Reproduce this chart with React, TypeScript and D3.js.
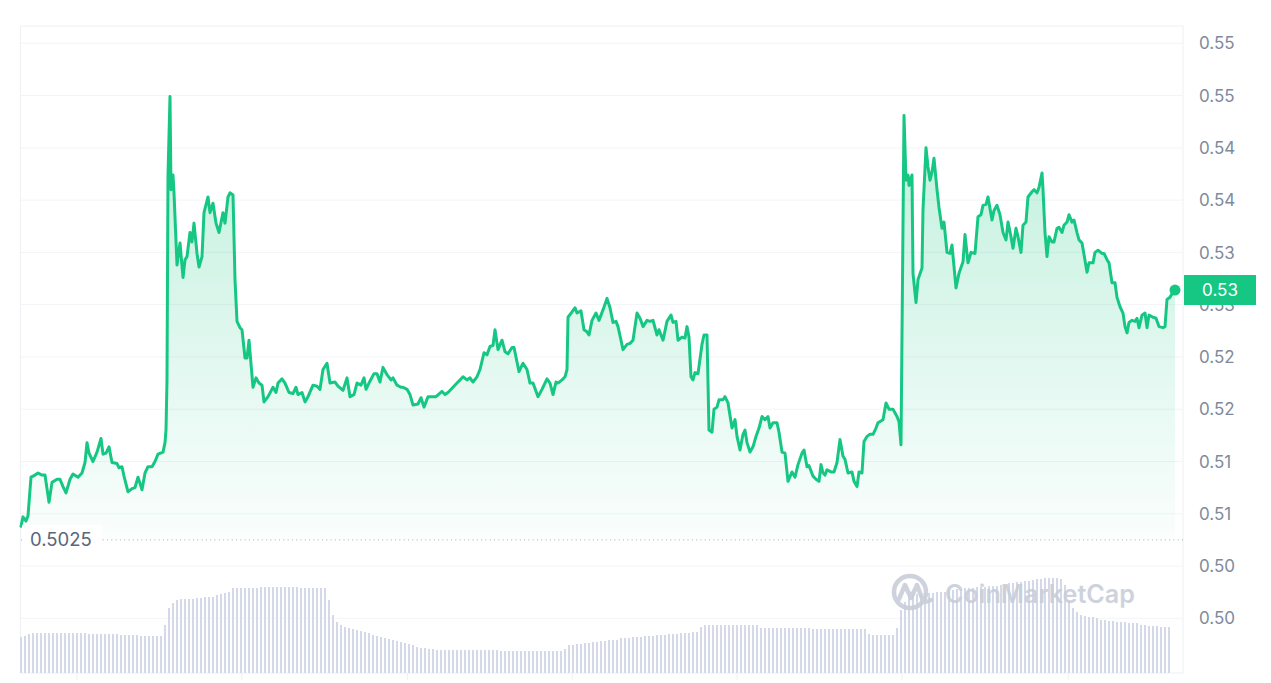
import React from 'react';
import * as d3 from 'd3';

// [minutes since start, price]
const priceSeries: [number, number][] = [
  [0,0.5038],[2.5,0.5047],[6.25,0.5043],[8.75,0.5048],[12.5,0.5085],[17.5,0.5087],[21.25,0.5089],[26.25,0.5087],[30,0.5087],[35,0.5061],
  [38.75,0.5080],[45,0.5083],[48.75,0.5083],[52.5,0.5076],[56.25,0.5070],[61.25,0.5083],[65,0.5088],[71.25,0.5085],[76.25,0.5089],[80,0.5099],
  [82.5,0.5118],[85,0.5108],[90,0.5100],[95,0.5109],[100,0.5122],[102.5,0.5107],[106.25,0.5108],[110,0.5114],[113.75,0.5099],[120,0.5098],
  [122.5,0.5094],[126.25,0.5095],[128.75,0.5086],[133.75,0.5071],[138.75,0.5074],[142.5,0.5075],[146.25,0.5085],[151.25,0.5073],[155,0.5089],[158.75,0.5095],
  [163.75,0.5095],[167.5,0.5100],[171.25,0.5107],[177.5,0.5109],[180,0.5118],[181.25,0.5130],[182.5,0.5178],[183.75,0.5374],[186.25,0.5449],[187.5,0.5360],
  [190,0.5374],[191.25,0.5357],[195,0.5288],[198.75,0.5309],[202.5,0.5276],[205,0.5293],[207.5,0.5296],[211.25,0.5319],[213.75,0.5310],[216.25,0.5328],
  [220,0.5299],[222.5,0.5286],[226.25,0.5296],[228.75,0.5338],[233.75,0.5353],[236.25,0.5338],[240,0.5347],[243.75,0.5328],[247.5,0.5319],[252.5,0.5338],
  [255,0.5328],[258.75,0.5353],[261.25,0.5357],[265,0.5355],[267.5,0.5274],[270,0.5234],[273.75,0.5228],[276.25,0.5226],[280,0.5199],[282.5,0.5199],
  [285,0.5216],[290,0.5171],[293.75,0.5180],[297.5,0.5175],[301.25,0.5173],[303.75,0.5157],[308.75,0.5162],[315,0.5171],[318.75,0.5166],[321.25,0.5175],
  [326.25,0.5179],[330,0.5175],[335,0.5166],[340,0.5165],[343.75,0.5171],[346.25,0.5164],[351.25,0.5166],[355,0.5157],[358.75,0.5162],[365,0.5173],
  [370,0.5172],[373.75,0.5169],[377.5,0.5188],[382.5,0.5194],[386.25,0.5175],[392.5,0.5176],[396.25,0.5172],[402.5,0.5168],[407.5,0.5180],[411.25,0.5162],
  [416.25,0.5164],[420,0.5175],[425,0.5173],[428.75,0.5180],[431.25,0.5169],[435,0.5175],[441.25,0.5184],[445,0.5184],[448.75,0.5176],[452.5,0.5190],
  [457.5,0.5183],[462.5,0.5178],[465,0.5180],[470,0.5173],[475,0.5171],[477.5,0.5171],[482.5,0.5169],[486.25,0.5164],[490,0.5154],[496.25,0.5155],
  [500,0.5161],[503.75,0.5152],[508.75,0.5162],[513.75,0.5162],[518.75,0.5162],[526.25,0.5167],[530,0.5164],[533.75,0.5166],[540,0.5171],[545,0.5175],
  [548.75,0.5178],[552.5,0.5181],[557.5,0.5178],[561.25,0.5180],[565,0.5176],[570,0.5181],[573.75,0.5188],[578.75,0.5204],[582.5,0.5202],[586.25,0.5210],
  [590,0.5211],[592.5,0.5226],[596.25,0.5207],[601.25,0.5216],[605,0.5205],[608.75,0.5203],[613.75,0.5209],[616.25,0.5209],[622.5,0.5186],[627.5,0.5194],
  [632.5,0.5188],[636.25,0.5175],[640,0.5175],[646.25,0.5162],[651.25,0.5169],[657.5,0.5179],[661.25,0.5175],[665,0.5164],[668.75,0.5176],[671.25,0.5175],
  [676.25,0.5178],[680,0.5181],[682.5,0.5188],[683.75,0.5238],[688.75,0.5243],[692.5,0.5247],[695,0.5242],[700,0.5244],[703.75,0.5226],[707.5,0.5224],
  [710,0.5221],[713.75,0.5235],[718.75,0.5242],[722.5,0.5235],[727.5,0.5245],[732.5,0.5256],[736.25,0.5247],[740,0.5233],[743.75,0.5234],[746.25,0.5229],
  [750,0.5216],[752.5,0.5207],[757.5,0.5212],[761.25,0.5213],[765,0.5216],[770,0.5242],[773.75,0.5237],[777.5,0.5229],[782.5,0.5235],[786.25,0.5234],
  [790,0.5235],[795,0.5221],[797.5,0.5226],[802.5,0.5216],[807.5,0.5234],[812.5,0.5240],[815,0.5233],[818.75,0.5234],[821.25,0.5216],[826.25,0.5219],
  [830,0.5218],[832.5,0.5229],[835,0.5219],[837.5,0.5181],[840,0.5178],[842.5,0.5185],[846.25,0.5184],[851.25,0.5212],[853.75,0.5221],[857.5,0.5221],
  [860,0.5130],[863.75,0.5128],[866.25,0.5150],[870,0.5152],[872.5,0.5159],[877.5,0.5159],[880,0.5162],[883.75,0.5156],[888.75,0.5132],[892.5,0.5140],
  [895,0.5124],[898.75,0.5111],[902.5,0.5126],[905,0.5130],[907.5,0.5118],[911.25,0.5109],[915,0.5114],[918.75,0.5124],[922.5,0.5132],[926.25,0.5143],
  [930,0.5140],[933.75,0.5143],[936.25,0.5132],[940,0.5137],[945,0.5137],[947.5,0.5128],[951.25,0.5109],[955,0.5108],[958.75,0.5081],[963.75,0.5090],
  [967.5,0.5085],[971.25,0.5097],[976.25,0.5108],[978.75,0.5111],[982.5,0.5095],[985,0.5096],[990,0.5086],[993.75,0.5083],[997.5,0.5081],[1000,0.5097],
  [1002.5,0.5089],[1005,0.5087],[1007.5,0.5092],[1012.5,0.5090],[1016.25,0.5090],[1020,0.5099],[1023.75,0.5121],[1027.5,0.5105],[1030,0.5102],[1033.75,0.5089],
  [1038.75,0.5090],[1041.25,0.5081],[1045,0.5076],[1047.5,0.5090],[1051.25,0.5089],[1053.75,0.5119],[1057.5,0.5124],[1061.25,0.5126],[1065,0.5126],[1068.75,0.5132],
  [1071.25,0.5137],[1077.5,0.5140],[1081.25,0.5156],[1085,0.5150],[1090,0.5150],[1095,0.5143],[1097.5,0.5138],[1100,0.5116],[1103.75,0.5431],[1106.25,0.5369],
  [1108.75,0.5374],[1110,0.5364],[1113.75,0.5374],[1115,0.5280],[1118.75,0.5252],[1121.25,0.5274],[1126.25,0.5285],[1127.5,0.5341],[1131.25,0.5400],[1133.75,0.5382],
  [1136.25,0.5369],[1138.75,0.5377],[1141.25,0.5390],[1145,0.5360],[1147.5,0.5343],[1151.25,0.5323],[1153.75,0.5329],[1157.5,0.5300],[1161.25,0.5299],[1163.75,0.5307],
  [1168.75,0.5266],[1172.5,0.5280],[1177.5,0.5291],[1180,0.5317],[1183.75,0.5290],[1187.5,0.5300],[1192.5,0.5299],[1196.25,0.5334],[1200,0.5336],[1202.5,0.5345],
  [1206.25,0.5346],[1208.75,0.5353],[1213.75,0.5331],[1216.25,0.5340],[1220,0.5345],[1223.75,0.5336],[1227.5,0.5319],[1231.25,0.5312],[1233.75,0.5329],[1237.5,0.5315],
  [1240,0.5304],[1243.75,0.5323],[1246.25,0.5315],[1250,0.5300],[1252.5,0.5326],[1256.25,0.5329],[1258.75,0.5353],[1263.75,0.5358],[1266.25,0.5360],[1270,0.5357],
  [1272.5,0.5362],[1276.25,0.5376],[1277.5,0.5360],[1280,0.5319],[1282.5,0.5296],[1285,0.5315],[1288.75,0.5310],[1291.25,0.5310],[1295,0.5323],[1297.5,0.5324],
  [1301.25,0.5319],[1303.75,0.5326],[1307.5,0.5329],[1310,0.5336],[1313.75,0.5329],[1316.25,0.5331],[1320,0.5319],[1322.5,0.5312],[1326.25,0.5309],[1328.75,0.5298],
  [1332.5,0.5281],[1335,0.5290],[1340,0.5290],[1342.5,0.5300],[1346.25,0.5302],[1351.25,0.5299],[1353.75,0.5299],[1357.5,0.5293],[1360,0.5290],[1363.75,0.5271],
  [1367.5,0.5271],[1370,0.5257],[1373.75,0.5248],[1377.5,0.5242],[1380,0.5229],[1382.5,0.5223],[1385,0.5233],[1388.75,0.5235],[1392.5,0.5234],[1395,0.5237],
  [1397.5,0.5228],[1401.25,0.5240],[1405,0.5242],[1407.5,0.5228],[1410,0.5240],[1415,0.5238],[1418.75,0.5237],[1422.5,0.5229],[1427.5,0.5228],[1430,0.5229],
  [1432.5,0.5255],[1436.25,0.5257],[1440,0.5262],[1442.5,0.5264]
];

// volume per 5-minute bar (relative units)
const volumes: number[] = [
  36,37,39,40,40,40,40,40,40,40,40,40,40,40,40,40,40,39,39,39,39,39,39,39,39,38,
  38,38,38,38,37,37,37,37,37,37,48,65,70,73,74,74,74,74,75,75,76,76,76,78,79,80,81,
  85,85,85,85,85,85,85,86,86,86,86,86,86,86,86,86,86,85,85,85,85,85,85,85,73,58,51,
  48,46,45,44,43,42,41,40,38,37,36,35,34,33,32,31,30,29,28,26,25,25,24,24,
  23,23,23,23,23,23,23,23,23,23,23,23,23,23,23,23,22,22,22,22,22,22,22,22,22,22,22,22,22,22,22,22,
  24,28,28,29,29,30,30,31,31,32,32,33,33,33,35,35,35,36,36,36,37,37,37,38,38,38,39,39,39,40,40,40,41,41,
  46,48,48,48,48,48,48,48,48,48,48,48,48,48,48,
  45,45,45,45,45,45,45,45,45,45,45,45,45,44,44,44,44,44,44,44,44,44,44,44,44,44,44,
  39,38,38,38,38,38,38,45,63,71,78,78,79,79,80,80,80,81,81,81,
  83,83,84,84,85,85,85,86,86,86,87,87,87,88,88,90,90,91,91,92,92,93,94,94,95,95,95,95,94,
  88,73,65,61,58,57,56,56,55,53,53,52,52,51,51,51,50,50,50,48,48,47,47,47,46,46,46
];
const barMinutes = 5;

const yTicks = [0.495, 0.5, 0.505, 0.51, 0.515, 0.52, 0.525, 0.53, 0.535, 0.54, 0.545, 0.55];
const yTickLabels = ['0.50', '0.50', '0.51', '0.51', '0.52', '0.52', '0.53', '0.53', '0.54', '0.54', '0.55', '0.55'];
const xTickMinutes = [70, 276, 483, 689, 895, 1101, 1309];
const openPrice = 0.5025;
const openLabel = '0.5025';
const lastLabel = '0.53';

const GREEN = '#16c784';

export default function App() {
  const W = 1271, H = 683;
  const plotLeft = 21, dataRight = 1175, frameRight = 1183, frameTop = 26, frameBottom = 673;
  const maxT = d3.max(priceSeries, d => d[0]) as number;
  const x = d3.scaleLinear().domain([0, maxT]).range([plotLeft, dataRight]);
  const y = d3.scaleLinear().domain([0.495, 0.55]).range([618.3, 43.3]);
  const vy = d3.scaleLinear().domain([0, 100]).range([frameBottom, frameBottom - 100]);

  const line = d3.line<[number, number]>().x(d => x(d[0])).y(d => y(d[1]));
  const area = d3.area<[number, number]>().x(d => x(d[0])).y0(y(openPrice)).y1(d => y(d[1]));
  const last = priceSeries[priceSeries.length - 1];
  const maxP = d3.max(priceSeries, d => d[1]) as number;
  const yOpen = y(openPrice);
  const font = 'Inter, "Noto Sans", sans-serif';

  return (
    <svg width={W} height={H} style={{ position: 'absolute', left: 0, top: 0, background: '#fff' }}>
      <defs>
        <linearGradient id="pf" gradientUnits="userSpaceOnUse" x1="0" x2="0" y1={y(maxP)} y2={yOpen}>
          <stop offset="0" stopColor={GREEN} stopOpacity={0.28} />
          <stop offset="1" stopColor={GREEN} stopOpacity={0.02} />
        </linearGradient>
      </defs>
      {/* frame */}
      <line x1={plotLeft - 0.5} x2={frameRight} y1={frameTop} y2={frameTop} stroke="#eef0f4" />
      <line x1={plotLeft - 0.5} x2={plotLeft - 0.5} y1={frameTop} y2={frameBottom} stroke="#eef0f4" />
      <line x1={frameRight} x2={frameRight} y1={frameTop} y2={frameBottom} stroke="#eef0f4" />
      <line x1={plotLeft - 0.5} x2={frameRight} y1={frameBottom} y2={frameBottom} stroke="#eef0f4" />
      {xTickMinutes.map((m, i) => (
        <line key={'xt' + i} x1={x(m)} x2={x(m)} y1={frameBottom} y2={frameBottom + 7} stroke="#eef0f4" />
      ))}
      {/* grid */}
      {yTicks.map((t, i) => (
        <line key={'g' + i} x1={plotLeft} x2={frameRight} y1={y(t)} y2={y(t)} stroke="#f2f4f7" />
      ))}
      {/* volume */}
      {volumes.map((v, i) => (
        <rect key={'v' + i} x={x(i * barMinutes) - 1} y={vy(v)} width={2} height={frameBottom - vy(v)} fill="#d3d9e8" />
      ))}
      {/* watermark */}
      <g opacity={0.9}>
        <circle cx={910} cy={592} r={16} fill="none" stroke="#c9ced9" strokeWidth={4.5} />
        <path d="M899 599 L905 585 L911 598 L917 585 L922 598 Q925 604 931 600" fill="none" stroke="#c9ced9" strokeWidth={4.5} strokeLinejoin="round" strokeLinecap="round" />
        <text x={945} y={603} fontFamily={font} fontSize={25} fontWeight={600} fill="#c9ced9" textLength={190} lengthAdjust="spacingAndGlyphs">CoinMarketCap</text>
      </g>
      {/* price area + line */}
      <path d={area(priceSeries) || ''} fill="url(#pf)" />
      <path d={line(priceSeries) || ''} fill="none" stroke={GREEN} strokeWidth={3} strokeLinejoin="round" strokeLinecap="round" />
      {/* open price line */}
      <line x1={plotLeft} x2={frameRight} y1={yOpen} y2={yOpen} stroke="#a6adbf" strokeWidth={1} strokeDasharray="1 3.3" />
      <rect x={plotLeft + 1} y={yOpen - 15} width={79} height={30} fill="#ffffff" opacity={0.92} />
      <text x={30} y={yOpen} dy="0.35em" fontFamily={font} fontSize={18.5} fill="#58667e">{openLabel}</text>
      {/* y labels */}
      {yTicks.map((t, i) => (
        <text key={'yl' + i} x={1199} y={y(t)} dy="0.36em" fontFamily={font} fontSize={17} fill="#808a9d">{yTickLabels[i]}</text>
      ))}
      {/* last price tag */}
      <circle cx={x(last[0])} cy={y(last[1])} r={5.5} fill={GREEN} />
      <rect x={1184} y={y(last[1]) - 15} width={72} height={30} fill={GREEN} />
      <text x={1220} y={y(last[1])} dy="0.36em" textAnchor="middle" fontFamily={font} fontSize={17} fill="#ffffff">{lastLabel}</text>
    </svg>
  );
}
